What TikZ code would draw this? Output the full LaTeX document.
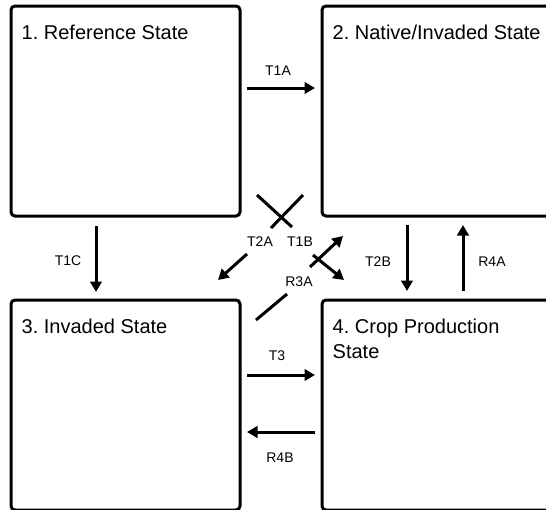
\documentclass[tikz,border=0pt]{standalone}
\usepackage{fontspec}
\setmainfont{Liberation Sans}
\frenchspacing
\usetikzlibrary{positioning, arrows.meta}
\tikzstyle{statebox} = [rectangle, rounded corners=4pt, line width=3pt, draw=black, minimum width=229pt, minimum height=210pt, inner sep=0pt]
\tikzstyle{statetext} = [anchor=north west, inner sep=0pt, align=left, font=\fontsize{20}{25}\selectfont]
\tikzstyle{tlabel} = [inner sep=0pt, font=\fontsize{14}{16}\selectfont]
\tikzstyle{arrow} = [line width=3pt, -{Triangle[length=10.5pt,width=11.5pt]}]
\tikzstyle{stroke} = [line width=3pt]
\begin{document}
\begin{tikzpicture}[x=1pt, y=-1pt, node distance=79pt]
        \useasboundingbox (0,0) rectangle (546,509);

        \node[statebox]                                        (ref)     at (125.5,111) {};
        \node[statebox, minimum width=231pt, right=79pt of ref] (native)  {};
        \node[statebox, below=81pt of ref]                     (invaded) {};
        \node[statebox, minimum width=231pt, below=81pt of native] (crop) {};

        \node[statetext] (ref text)     at ([shift={(12,20)}]ref.north west)     {1. Reference State};
        \node[statetext] (native text)  at ([shift={(12,20)}]native.north west)  {2. Native/Invaded State};
        \node[statetext] (invaded text) at ([shift={(12,20)}]invaded.north west) {3. Invaded State};
        \node[statetext] (crop text)    at ([shift={(12,20)}]crop.north west)    {4. Crop Production\\State};

        % arrow ends
        \coordinate (t1a s) at (247,88);  \coordinate (t1a e) at (315,88);
        \coordinate (t1c s) at (96,226);  \coordinate (t1c e) at (96,292);
        \coordinate (t2a s) at (247,254); \coordinate (t2a e) at (218,280);
        \coordinate (t1b s) at (310,267); \coordinate (t1b e) at (343,236);
        \coordinate (t1b' s) at (313,255); \coordinate (t1b' e) at (344,280);
        \coordinate (t2b s) at (407,225); \coordinate (t2b e) at (407,291);
        \coordinate (r4a s) at (463,291); \coordinate (r4a e) at (463,225);
        \coordinate (t3 s) at (247,375);  \coordinate (t3 e) at (315,375);
        \coordinate (r4b s) at (315,432); \coordinate (r4b e) at (247,432);
        \coordinate (x1 s) at (257,195);  \coordinate (x1 e) at (292,227);
        \coordinate (x2 s) at (303,195);  \coordinate (x2 e) at (271,228);
        \coordinate (r3a s) at (287,294); \coordinate (r3a e) at (256,320);

        \draw[arrow] (t1a s) -- (t1a e);
        \draw[arrow] (t1c s) -- (t1c e);
        \draw[arrow] (t2a s) -- (t2a e);
        \draw[arrow] (t1b s) -- (t1b e);
        \draw[arrow] (t1b' s) -- (t1b' e);
        \draw[arrow] (t2b s) -- (t2b e);
        \draw[arrow] (r4a s) -- (r4a e);
        \draw[arrow] (t3 s) -- (t3 e);
        \draw[arrow] (r4b s) -- (r4b e);
        \draw[stroke] (x1 s) -- (x1 e);
        \draw[stroke] (x2 s) -- (x2 e);
        \draw[stroke] (r3a s) -- (r3a e);

        \node[tlabel] (l t1a) at (278,71)  {T1A};
        \node[tlabel] (l t1c) at (68,261)  {T1C};
        \node[tlabel] (l t2a) at (260,242) {T2A};
        \node[tlabel] (l t1b) at (300,242) {T1B};
        \node[tlabel] (l r3a) at (299,282) {R3A};
        \node[tlabel] (l t2b) at (378,262) {T2B};
        \node[tlabel] (l r4a) at (492,262) {R4A};
        \node[tlabel] (l t3)  at (277,356) {T3};
        \node[tlabel] (l r4b) at (280,458) {R4B};
    \end{tikzpicture}
\end{document}
